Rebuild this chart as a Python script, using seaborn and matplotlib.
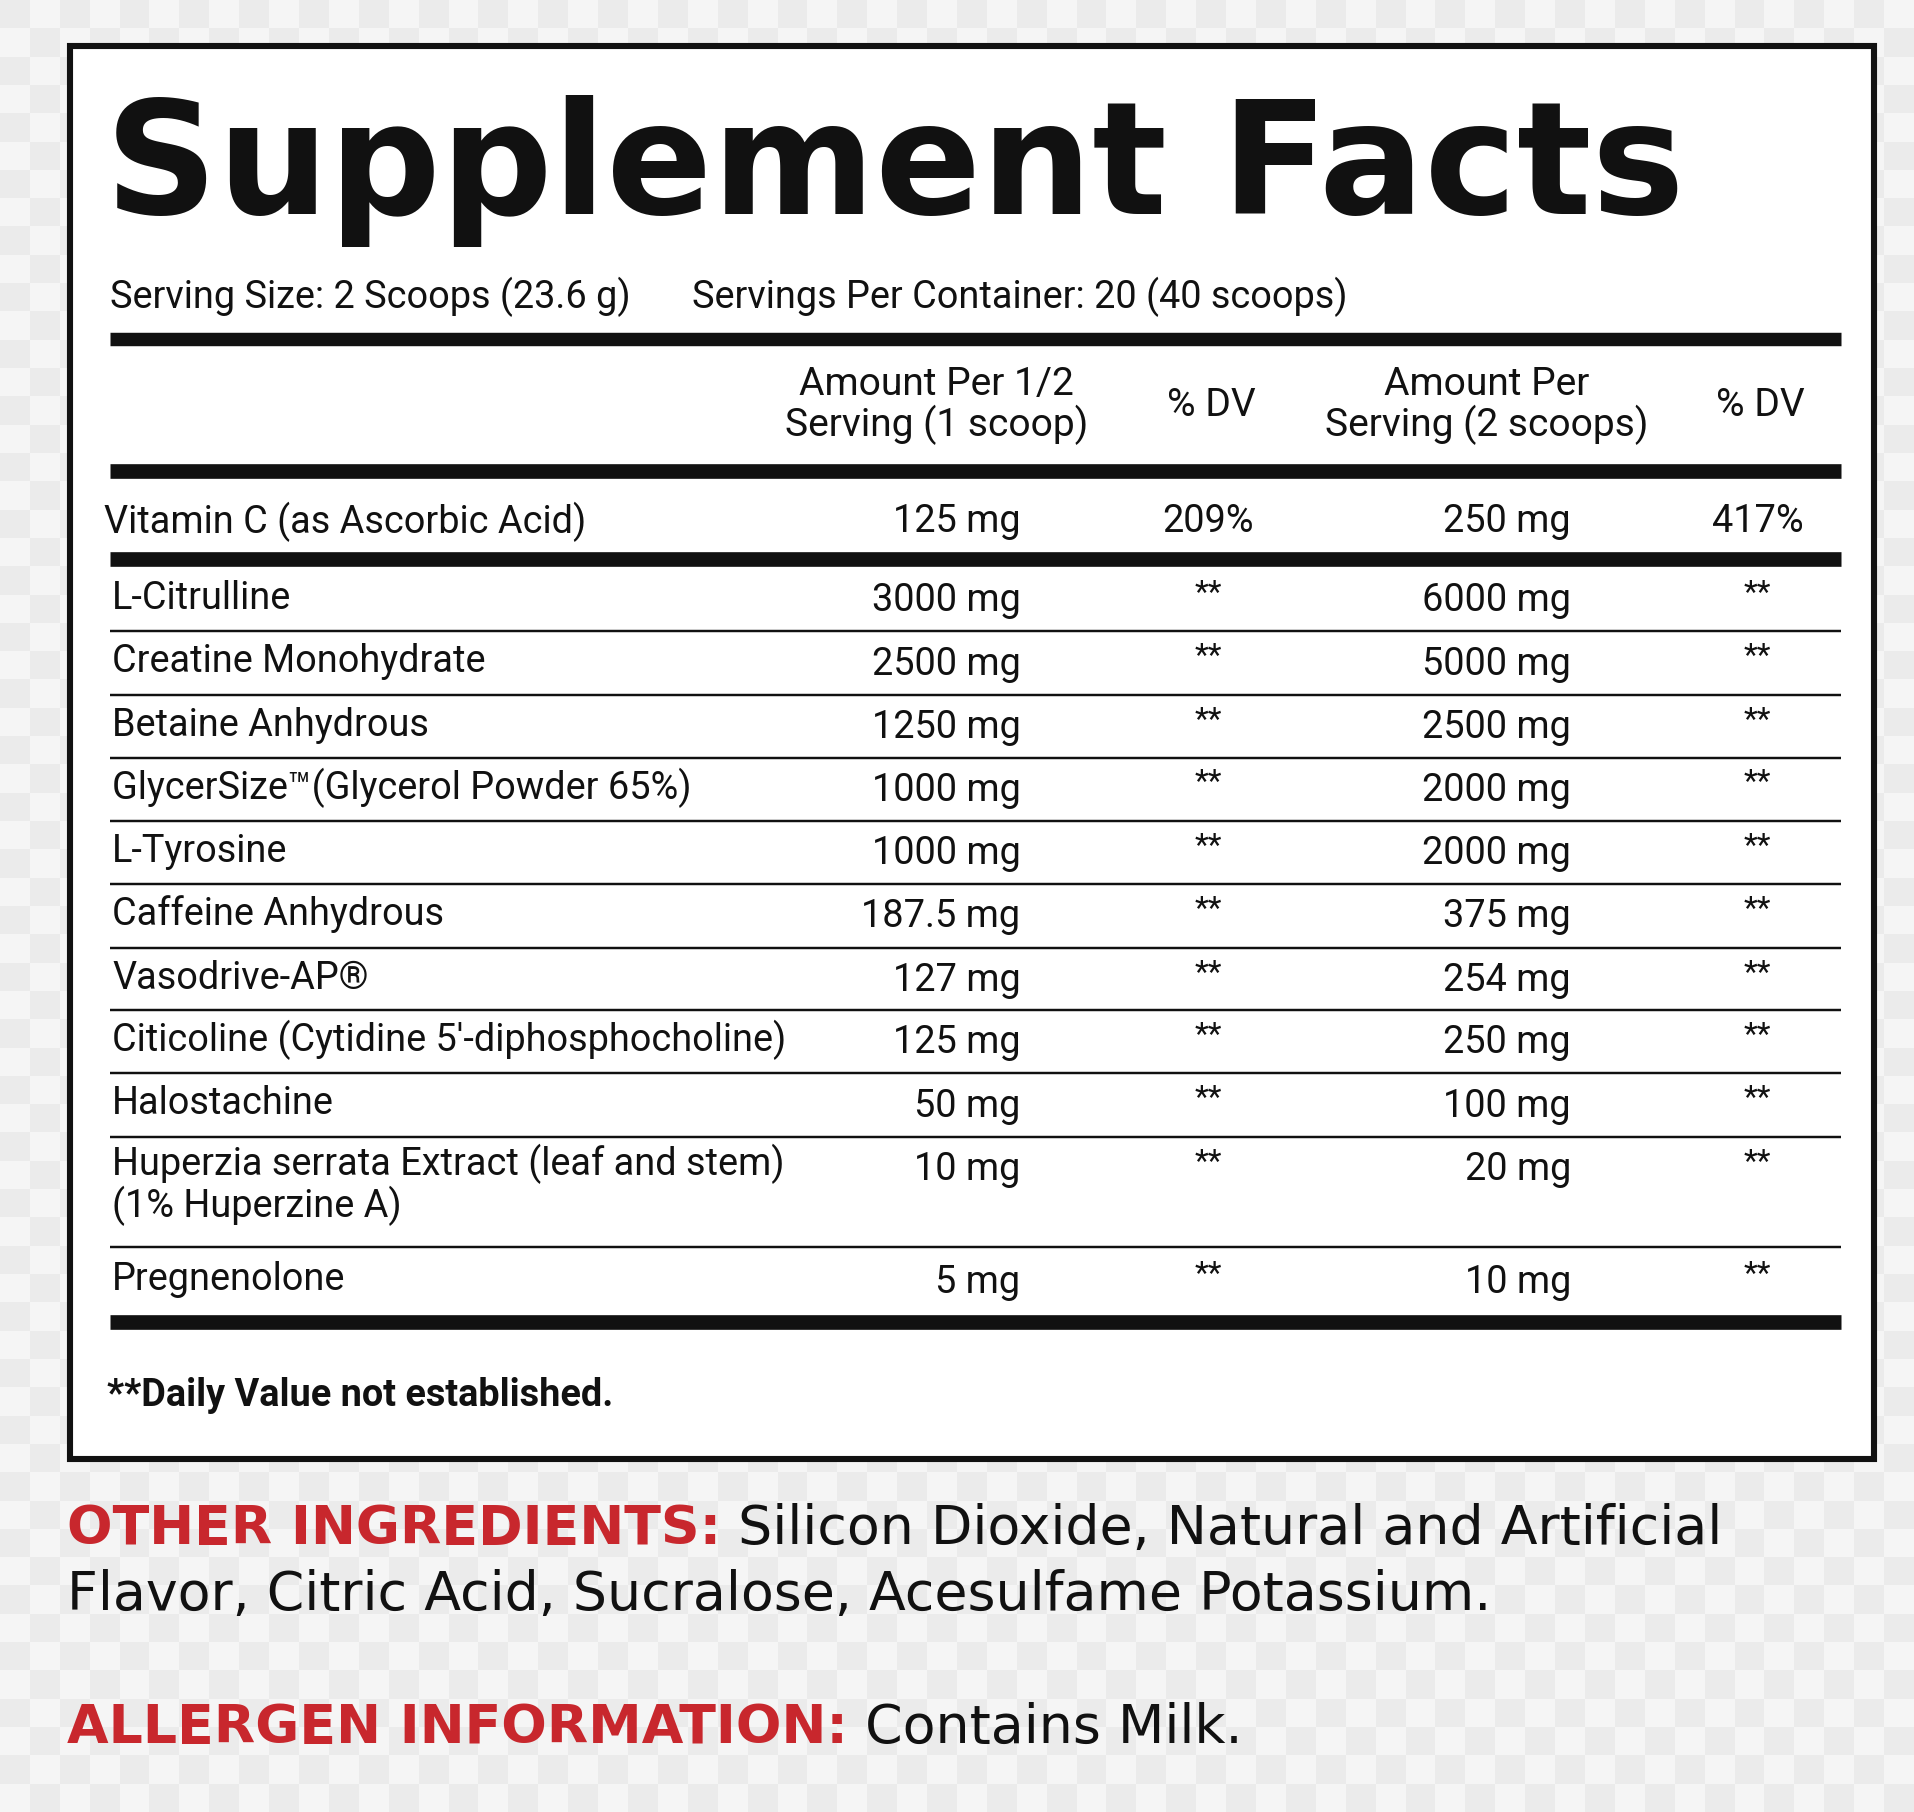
import matplotlib
matplotlib.use("Agg")
import matplotlib.pyplot as plt
import seaborn as sns
import numpy as np

sns.set_theme(style="white")
NARROW = ['Liberation Sans Narrow', 'Roboto', 'DejaVu Sans']
plt.rcParams['font.family'] = NARROW

# ---- data ----
title = "Supplement Facts"
serving_size = "Serving Size: 2 Scoops (23.6 g)"
servings_per = "Servings Per Container: 20 (40 scoops)"
headers = ["Amount Per 1/2\nServing (1 scoop)", "% DV", "Amount Per\nServing (2 scoops)", "% DV"]
vitamin = ["Vitamin C (as Ascorbic Acid)", "125 mg", "209%", "250 mg", "417%"]
ingredients = ["L-Citrulline", "Creatine Monohydrate", "Betaine Anhydrous",
               "GlycerSize™(Glycerol Powder 65%)", "L-Tyrosine", "Caffeine Anhydrous",
               "Vasodrive-AP®", "Citicoline (Cytidine 5′-diphosphocholine)", "Halostachine",
               "Huperzia serrata Extract (leaf and stem)\n(1% Huperzine A)", "Pregnenolone"]
half_amounts = ["3000 mg", "2500 mg", "1250 mg", "1000 mg", "1000 mg", "187.5 mg",
                "127 mg", "125 mg", "50 mg", "10 mg", "5 mg"]
full_amounts = ["6000 mg", "5000 mg", "2500 mg", "2000 mg", "2000 mg", "375 mg",
                "254 mg", "250 mg", "100 mg", "20 mg", "10 mg"]
dv_marks = ["**"] * len(ingredients)
footnote = "**Daily Value not established."
other_label = "OTHER INGREDIENTS:"
other_text1 = " Silicon Dioxide, Natural and Artificial"
other_text2 = "Flavor, Citric Acid, Sucralose, Acesulfame Potassium."
allergen_label = "ALLERGEN INFORMATION:"
allergen_text = " Contains Milk."

W, H = 1568, 1484
S = 1914 / W
def fs(px):
    return px * S * 0.72

fig = plt.figure(figsize=(19.14, 18.12), dpi=100)
ax = fig.add_axes([0, 0, 1, 1])
ax.set_xlim(0, W); ax.set_ylim(H, 0); ax.axis('off')

n = 64
chk = (np.add.outer(np.arange(n), np.arange(n)) % 2) * 0.04 + 0.92
ax.imshow(chk, cmap='gray', vmin=0, vmax=1, extent=(0, W, H, 0), aspect='auto', zorder=0)

ax.add_patch(plt.Rectangle((57, 38), 1478, 1157, facecolor='white', edgecolor='#111',
                           lw=5 * S * 0.72, zorder=1))

def txt(x, y, s, size, ha='left', weight='normal', color='#111', family=None, va='center'):
    return ax.text(x, y, s, fontsize=fs(size), ha=ha, va=va, weight=weight, color=color,
                   family=family or NARROW, zorder=3, linespacing=1.05)

def bar(y, t):
    ax.plot([90, 1508], [y, y], color='#111', lw=t * S * 0.72, solid_capstyle='butt', zorder=2)

txt(86, 140, title, 128, weight='bold', family=['DejaVu Sans'])
txt(90, 243, serving_size, 31)
txt(567, 243, servings_per, 31)
bar(278, 11)
hx = [767, 992, 1218, 1442]
for x, h in zip(hx, headers):
    txt(x, 332, h, 32, ha='center')
bar(386, 12)
TS = 31
txt(85, 427, vitamin[0], TS)
txt(836, 427, vitamin[1], TS, ha='right')
txt(990, 427, vitamin[2], TS, ha='center')
txt(1287, 427, vitamin[3], TS, ha='right')
txt(1440, 427, vitamin[4], TS, ha='center')
bar(458, 12)

row_y = [490, 542, 594, 645, 697, 749, 801, 852, 904, 956, 1048]
sep_y = [517, 569, 621, 672, 724, 776, 827, 879, 931, 1021]
for y in sep_y:
    bar(y, 2)
for y, name, a, b, d in zip(row_y, ingredients, half_amounts, full_amounts, dv_marks):
    va = 'top' if '\n' in name else 'center'
    txt(92, y - 19 if va == 'top' else y, name, TS, va=va)
    txt(836, y + 2, a, TS, ha='right')
    txt(1287, y + 2, b, TS, ha='right')
    txt(990, y - 4, d, 26, ha='center')
    txt(1440, y - 4, d, 26, ha='center')
bar(1083, 12)
txt(88, 1143, footnote, 31, weight='bold')

RED = '#c8272d'
GEO = ['DejaVu Sans']
for y, lab, rest in [(1252, other_label, other_text1), (1415, allergen_label, allergen_text)]:
    t = txt(55, y, lab, 44, weight='bold', color=RED, family=GEO)
    fig.canvas.draw()
    bb = t.get_window_extent()
    x1 = ax.transData.inverted().transform((bb.x1, bb.y0))[0]
    txt(x1, y, rest, 44, family=GEO)
txt(55, 1306, other_text2, 44, family=GEO)

fig.savefig("out.png", dpi=100)
